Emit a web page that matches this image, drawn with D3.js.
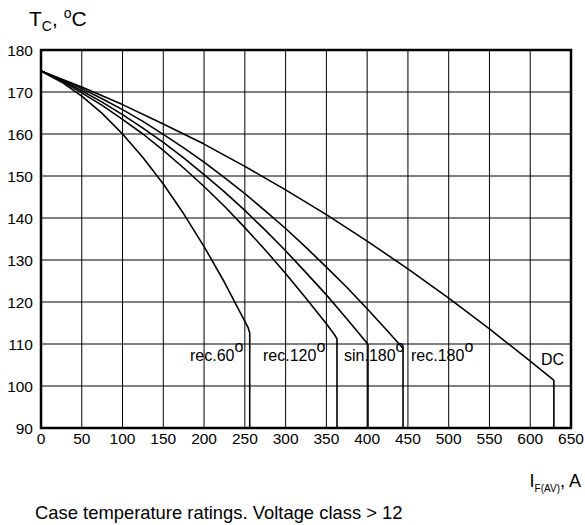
<!DOCTYPE html>
<html><head><meta charset="utf-8">
<script src="https://cdn.jsdelivr.net/npm/d3@7"></script>
<style>
body{margin:0;background:#fff;}
svg{display:block;font-family:"Liberation Sans",Arial,sans-serif;}
</style></head>
<body><svg id="c" width="585" height="525"></svg>
<script>
// ---- data ----
const xTicks = [0,50,100,150,200,250,300,350,400,450,500,550,600,650];
const yTicks = [90,100,110,120,130,140,150,160,170,180];

const rec60I  = [0,25,50,75,100,125,150,175,200,225,250,254,256,256];
const rec60T  = [175,172.4,169.0,164.9,160.0,154.4,148.1,141.0,133.2,124.7,115.4,113.9,112.6,90];

const rec120I = [0,25,50,75,100,125,150,175,200,225,250,275,300,325,350,360,363,363];
const rec120T = [175,172.6,169.8,166.8,163.5,160.0,156.1,151.9,147.5,142.8,137.7,132.4,126.8,120.9,114.8,112.2,111.2,90];

const sin180I = [0,25,50,75,100,125,150,175,200,225,250,275,300,325,350,375,400,401,401];
const sin180T = [175,172.8,170.3,167.6,164.6,161.4,158.0,154.3,150.3,146.2,141.8,137.1,132.2,127.0,121.7,116.0,110.2,109.8,90];

const rec180I = [0,25,50,75,100,125,150,175,200,225,250,275,300,325,350,375,400,425,442,444,444];
const rec180T = [175,173.0,170.8,168.4,165.8,163.0,159.9,156.7,153.3,149.6,145.8,141.7,137.5,133.0,128.3,123.5,118.4,113.1,109.4,108.9,90];

const dcI = [0,25,50,75,100,150,200,250,300,350,400,450,500,550,600,628,629,629];
const dcT = [175,173.1,171.2,169.1,167.0,162.4,157.6,152.3,146.7,140.8,134.5,127.9,120.9,113.6,105.9,101.5,101.3,90];

const curveLabels = ["rec.60","rec.120","sin.180","rec.180","DC"];

// ---- drawing ----
const svg = d3.select("#c");
const x = d3.scaleLinear().domain([0,650]).range([41,571]);
const y = d3.scaleLinear().domain([90,180]).range([428,50]);

// grid
const g = svg.append("g");
g.selectAll(".vg").data(xTicks.slice(1,-1)).join("line")
  .attr("x1",d=>x(d)).attr("x2",d=>x(d)).attr("y1",y(90)).attr("y2",y(180))
  .attr("stroke","#000").attr("stroke-width",1);
g.selectAll(".hg").data(yTicks.slice(1,-1)).join("line")
  .attr("x1",x(0)).attr("x2",x(650)).attr("y1",d=>y(d)).attr("y2",d=>y(d))
  .attr("stroke","#000").attr("stroke-width",1);

// frame
svg.append("rect").attr("x",x(0)).attr("y",y(180))
  .attr("width",x(650)-x(0)).attr("height",y(90)-y(180))
  .attr("fill","none").attr("stroke","#000").attr("stroke-width",2.5);

// axes labels
svg.selectAll(".yt").data(yTicks).join("text")
  .attr("x",33).attr("y",d=>y(d)).attr("dy","0.36em")
  .attr("text-anchor","end").attr("font-size",15.5).text(d=>d);
svg.selectAll(".xt").data(xTicks).join("text")
  .attr("x",d=>x(d)).attr("y",444)
  .attr("text-anchor","middle").attr("font-size",15.5).text(d=>d);

// curves
const line = d3.line().x(d=>x(d[0])).y(d=>y(d[1]));
const series = [[rec60I,rec60T],[rec120I,rec120T],[sin180I,sin180T],[rec180I,rec180T],[dcI,dcT]];
svg.selectAll(".cv").data(series).join("path")
  .attr("d",s=>line(s[0].map((v,i)=>[v,s[1][i]])))
  .attr("fill","none").attr("stroke","#000").attr("stroke-width",1.6)
  .attr("stroke-linejoin","round");

// curve labels
const lx = [190,263,344,411,541];
curveLabels.forEach((t,i)=>{
  const tx = svg.append("text").attr("x",lx[i]).attr("y",i===4?365:361).attr("font-size",16);
  tx.append("tspan").text(t);
  if(i<4) tx.append("tspan").attr("dy",-9).attr("font-size",16).text("o");
});

// y title
const yt = svg.append("text").attr("x",29).attr("y",26).attr("font-size",21);
yt.append("tspan").text("T");
yt.append("tspan").attr("dy",5).attr("font-size",14).text("C");
yt.append("tspan").attr("dy",-5).text(", ");
yt.append("tspan").attr("dy",-8).attr("font-size",14).text("o");
yt.append("tspan").attr("dy",8).text("C");

// x title
const xt = svg.append("text").attr("x",581).attr("y",487).attr("font-size",18).attr("text-anchor","end");
xt.append("tspan").text("I");
xt.append("tspan").attr("dy",5).attr("font-size",10).text("F(AV)");
xt.append("tspan").attr("dy",-5).text(", A");

// caption
svg.append("text").attr("x",35).attr("y",519).attr("font-size",18.4)
  .text("Case temperature ratings. Voltage class > 12");
</script></body></html>
